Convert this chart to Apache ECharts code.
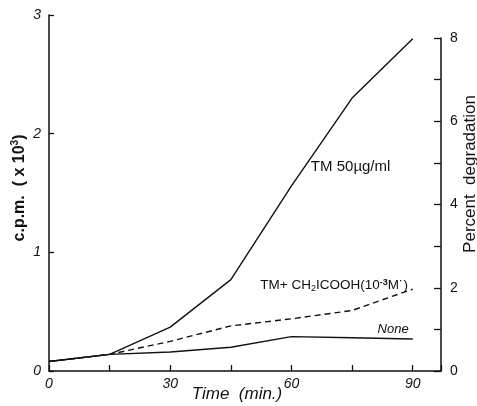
<!DOCTYPE html>
<html>
<head>
<meta charset="utf-8">
<script src="https://cdn.jsdelivr.net/npm/echarts@6/dist/echarts.min.js"></script>
<style>
  html, body { margin: 0; padding: 0; background: #fff; }
  #chart { width: 477px; height: 406px; }
</style>
</head>
<body>
<div id="chart"></div>
<script>
// Sampling times (min.)
const times = [0, 15, 30, 45, 60, 75, 90];
// Counts released, c.p.m. (x 10^3)
const tm50 = [0.08, 0.14, 0.37, 0.77, 1.56, 2.30, 2.80];
const tmIodoacetate = [0.08, 0.14, 0.25, 0.38, 0.44, 0.51, 0.69];
const none = [0.08, 0.14, 0.16, 0.20, 0.29, 0.28, 0.27];
// Axis ticks
const leftTicks = { min: 0, max: 3, step: 1 };
const rightTicks = { min: 0, max: 8, step: 1 };
const timeTicks = { min: 0, max: 97, step: 15 };

const FONT = 'Liberation Sans';
const INK = '#111';

const pairs = v => times.map((t, i) => [t, v[i]]);

const chart = echarts.init(document.getElementById('chart'), null, { renderer: 'canvas' });

const lineStyle = { color: INK, width: 1.4 };

chart.setOption({
  animation: false,
  backgroundColor: '#fff',
  grid: [
    { left: 49, right: 36, top: 15, bottom: 35, outerBoundsMode: 'none', containLabel: false },
    { left: 49, right: 36, top: 38, bottom: 35, outerBoundsMode: 'none', containLabel: false }
  ],
  xAxis: [
    {
      gridIndex: 0, type: 'value',
      min: timeTicks.min, max: timeTicks.max, interval: timeTicks.step,
      axisLine: { onZero: false, lineStyle: { color: INK, width: 1.5 } },
      axisTick: { inside: true, length: 6, lineStyle: { color: INK, width: 1.3 } },
      splitLine: { show: false },
      axisLabel: {
        color: INK, fontFamily: FONT, fontSize: 14, fontStyle: 'italic', margin: 6,
        formatter: v => (v % 30 === 0 && v <= 90) ? String(v) : ''
      }
    },
    {
      gridIndex: 1, type: 'value', min: timeTicks.min, max: timeTicks.max, show: false
    }
  ],
  yAxis: [
    {
      gridIndex: 0, type: 'value', position: 'left',
      min: leftTicks.min, max: leftTicks.max, interval: leftTicks.step,
      axisLine: { show: true, onZero: false, lineStyle: { color: INK, width: 1.5 } },
      axisTick: { show: true, inside: true, length: 5, lineStyle: { color: INK, width: 1.3 } },
      splitLine: { show: false },
      axisLabel: { color: INK, fontFamily: FONT, fontSize: 14, fontStyle: 'italic', margin: 8 }
    },
    {
      gridIndex: 1, type: 'value', position: 'right',
      min: rightTicks.min, max: rightTicks.max, interval: rightTicks.step,
      axisLine: { show: true, onZero: false, lineStyle: { color: INK, width: 1.5 } },
      axisTick: { show: true, inside: true, length: 7, lineStyle: { color: INK, width: 1.3 } },
      splitLine: { show: false },
      axisLabel: {
        color: INK, fontFamily: FONT, fontSize: 14, margin: 9,
        formatter: v => (v % 2 === 0) ? String(v) : ''
      }
    }
  ],
  series: [
    {
      name: 'TM 50µg/ml', type: 'line', xAxisIndex: 0, yAxisIndex: 0,
      data: pairs(tm50), showSymbol: false, symbol: 'none', lineStyle: lineStyle, z: 3
    },
    {
      name: 'TM + CH2ICOOH', type: 'line', xAxisIndex: 0, yAxisIndex: 0,
      data: pairs(tmIodoacetate), showSymbol: false, symbol: 'none',
      lineStyle: { color: INK, width: 1.4, type: [6, 4] }, z: 2
    },
    {
      name: 'None', type: 'line', xAxisIndex: 0, yAxisIndex: 0,
      data: pairs(none), showSymbol: false, symbol: 'none', lineStyle: lineStyle, z: 3
    }
  ]
});

// Curve annotations, placed in data space and converted to pixels
function at(t, v) { return chart.convertToPixel({ gridIndex: 0 }, [t, v]); }
const p1 = at(64.8, 1.72);
const p2 = at(52.3, 0.72);
const p3 = at(81.3, 0.35);

chart.setOption({
  graphic: [
    {
      type: 'text', x: p1[0], y: p1[1],
      style: { text: 'TM 50µg/ml', font: '15px ' + FONT, fill: INK, textVerticalAlign: 'middle' }
    },
    {
      type: 'text', x: p2[0], y: p2[1],
      style: {
        text: 'TM+ CH{sub|2}ICOOH(10{sup|-3}M\u02D9)',
        font: '13.5px ' + FONT, fill: INK, textVerticalAlign: 'middle',
        rich: {
          sub: { fontSize: 9, fontFamily: FONT, fill: INK, padding: [6, 0, 0, 0] },
          sup: { fontSize: 9, fontFamily: FONT, fill: INK, fontWeight: 'bold', padding: [0, 0, 7, 0] }
        }
      }
    },
    {
      type: 'text', x: p3[0], y: p3[1],
      style: { text: 'None', font: 'italic 13px ' + FONT, fill: INK, textVerticalAlign: 'middle' }
    },
    // Axis titles
    {
      type: 'text', x: 237, y: 394,
      style: {
        text: 'Time  (min.)', font: 'italic 17px ' + FONT, fill: INK,
        textAlign: 'center', textVerticalAlign: 'middle'
      }
    },
    {
      type: 'text', x: 20, y: 188, rotation: Math.PI / 2,
      style: {
        text: 'c.p.m.  ( x 10{sup|3})', font: 'bold 16px ' + FONT, fill: INK,
        textAlign: 'center', textVerticalAlign: 'middle',
        rich: { sup: { fontSize: 10, fontWeight: 'bold', fontFamily: FONT, fill: INK, padding: [0, 0, 9, 0] } }
      }
    },
    {
      type: 'text', x: 470, y: 174, rotation: Math.PI / 2,
      style: {
        text: 'Percent  degradation', font: '17px ' + FONT, fill: INK,
        textAlign: 'center', textVerticalAlign: 'middle'
      }
    }
  ]
});
</script>
</body>
</html>
